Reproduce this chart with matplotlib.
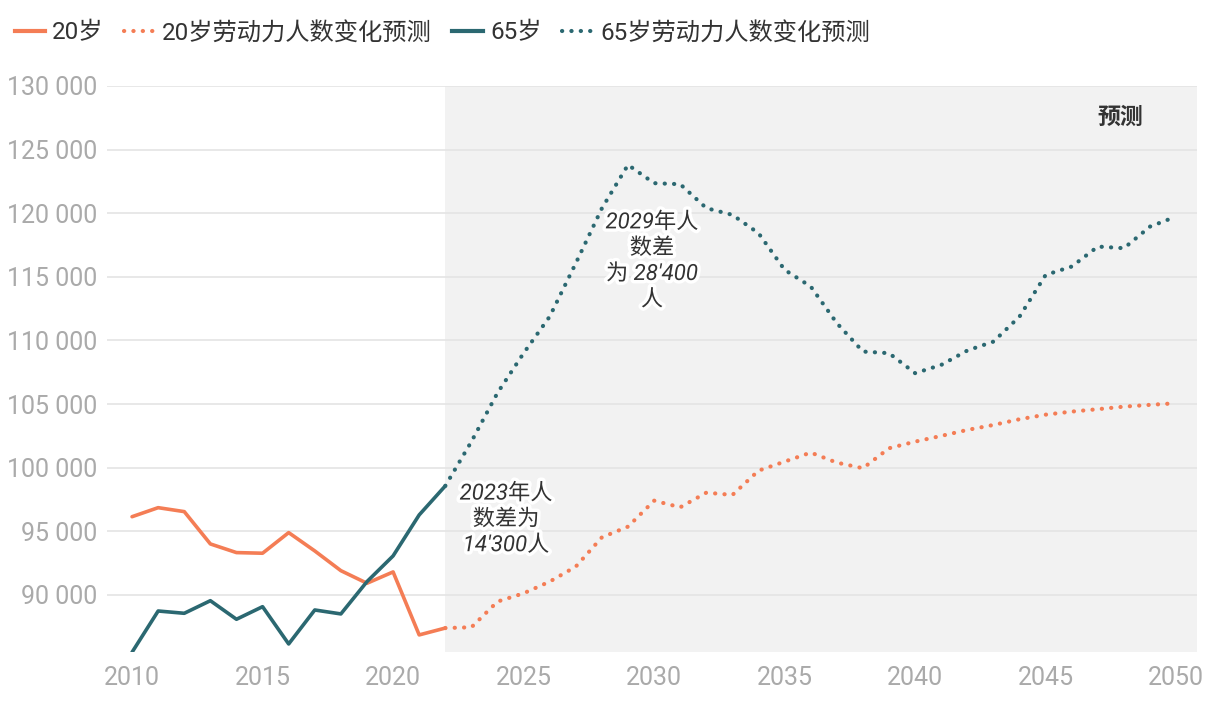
import numpy as np
import matplotlib
matplotlib.use("Agg")
import matplotlib.pyplot as plt
import matplotlib.patheffects as pe
from matplotlib.lines import Line2D
from matplotlib.ticker import FuncFormatter

plt.rcParams['font.family'] = ['Roboto', 'Noto Sans CJK SC', 'DejaVu Sans']

# historical values
years_hist = list(range(2010, 2023))
age20_hist = [96150, 96860, 96550, 94010, 93330, 93280, 94900, 93460, 91910, 90920, 91810, 86860, 87400]
age65_hist = [85500, 88740, 88560, 89550, 88090, 89080, 86150, 88820, 88510, 91050, 93070, 96290, 98570]

# projections
years_proj = list(range(2022, 2051))
age20_proj = [87400, 87460, 89480, 90130, 91050, 92230, 94530, 95370, 97410, 96890,
              98040, 97860, 99770, 100480, 101190, 100400, 99960, 101530, 102050, 102500,
              102970, 103360, 103810, 104170, 104410, 104600, 104800, 104940, 105070]
age65_proj = [98570, 102050, 105880, 109000, 111880, 116070, 120390, 123800, 122360, 122280,
              120400, 119870, 118430, 115550, 114240, 111360, 109130, 109000, 107430, 108080,
              109210, 109910, 111880, 115150, 115810, 117380, 117250, 118950, 119740]

labels = ['20岁', '20岁劳动力人数变化预测', '65岁', '65岁劳动力人数变化预测']
orange = '#F47D55'
teal = '#2B6871'
tick_color = '#AAAAAA'
text_color = '#333333'

fig = plt.figure(figsize=(12.2, 7.04), dpi=100)
ax = fig.add_axes([0.0877, 0.0739, 0.8935, 0.8040])

ax.axvspan(2022, 2051, color='#F2F2F2', zorder=0, lw=0)

dot = (0, (0.05, 2.2))
ax.plot(years_hist, age20_hist, color=orange, lw=2.6, solid_capstyle='round', zorder=3)
ax.plot(years_proj, age20_proj, color=orange, lw=3, linestyle=dot, dash_capstyle='round', zorder=3)
ax.plot(years_hist, age65_hist, color=teal, lw=2.6, solid_capstyle='round', zorder=3)
ax.plot(years_proj, age65_proj, color=teal, lw=3, linestyle=dot, dash_capstyle='round', zorder=3)

ax.set_xlim(2009.04, 2050.8)
ax.set_ylim(85520, 130000)
ax.set_xticks(range(2010, 2051, 5))
ax.set_yticks(range(90000, 130001, 5000))
ax.yaxis.set_major_formatter(FuncFormatter(lambda v, p: f"{int(v):,}".replace(',', ' ')))
ax.grid(axis='y', color='#E4E4E4', lw=1.2, zorder=1)
ax.set_axisbelow(True)
for s in ax.spines.values():
    s.set_visible(False)
ax.tick_params(length=0, colors=tick_color, labelsize=18, pad=7)
ax.tick_params(axis='x', pad=10)

halo = [pe.withStroke(linewidth=5, foreground='white')]
ax.text(2029.92, 116200, "2029年人\n数差\n为 28'400\n人", ha='center', va='center',
        fontsize=16, style='italic', color=text_color, linespacing=1.3, path_effects=halo, zorder=4)
ax.text(2024.33, 95900, "2023年人\n数差为\n14'300人", ha='center', va='center',
        fontsize=16, style='italic', color=text_color, linespacing=1.3, path_effects=halo, zorder=4)
ax.text(2047.85, 127570, "预测", ha='center', va='center', fontsize=16.5,
        fontweight='bold', color=text_color, family=['Noto Sans CJK SC'])

handles = [
    Line2D([], [], color=orange, lw=3),
    Line2D([], [], color=orange, lw=3, linestyle=dot, dash_capstyle='round'),
    Line2D([], [], color=teal, lw=3),
    Line2D([], [], color=teal, lw=3, linestyle=dot, dash_capstyle='round'),
]
leg = fig.legend(handles, labels, loc='upper left', bbox_to_anchor=(0.0, 0.99), ncol=4,
                 frameon=False, fontsize=17.5, handlelength=1.25, handletextpad=0.3,
                 columnspacing=0.85, borderaxespad=0.3, borderpad=0.3)
for t in leg.get_texts():
    t.set_color(text_color)

fig.savefig('out.png', dpi=100)
